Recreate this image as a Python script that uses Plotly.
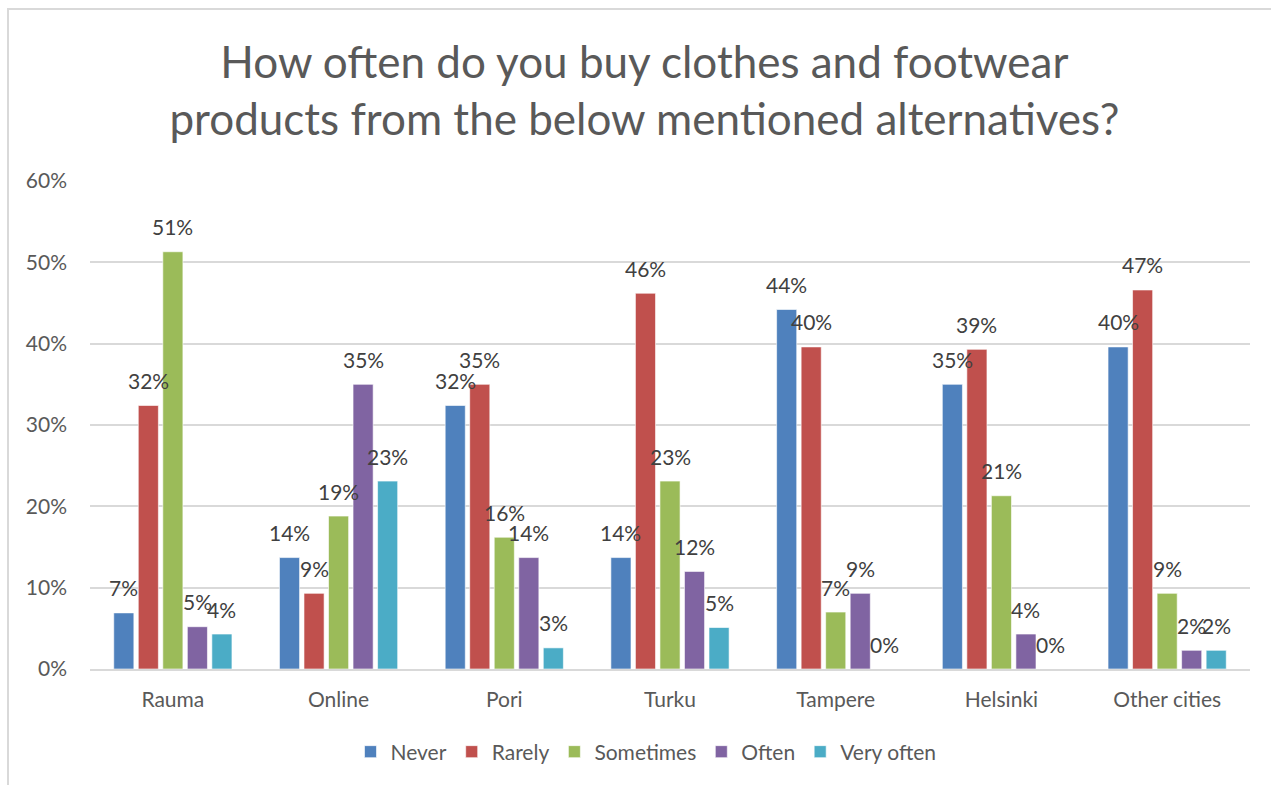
import plotly.graph_objects as go

# Survey answers: share of respondents (%) per place of purchase
places = ["Rauma", "Online", "Pori", "Turku", "Tampere", "Helsinki", "Other cities"]

never = [6.9, 13.7, 32.4, 13.7, 44.2, 35.0, 39.6]
rarely = [32.4, 9.3, 35.0, 46.2, 39.6, 39.3, 46.6]
sometimes = [51.3, 18.8, 16.2, 23.1, 7.0, 21.3, 9.3]
often = [5.2, 35.0, 13.7, 12.0, 9.3, 4.3, 2.3]
very_often = [4.3, 23.1, 2.6, 5.1, 0.0, 0.0, 2.3]

series = [
    ("Never", never, "#4F81BD"),
    ("Rarely", rarely, "#C0504D"),
    ("Sometimes", sometimes, "#9BBB59"),
    ("Often", often, "#8064A2"),
    ("Very often", very_often, "#4BACC6"),
]

FONT = "Lato, 'Open Sans', sans-serif"
GREY = "#595959"
LABEL = "#404040"

W, H = 1271, 785
L, R, T, B = 90, 21, 181, 116
pw, ph = W - L - R, H - T - B
BARGAP, GROUPGAP = 0.26, 0.18


def px_x(v):
    return (v - L) / pw


def px_y(v):
    return (H - B - v) / ph


fig = go.Figure()
for name, vals, color in series:
    fig.add_trace(go.Bar(
        name=name,
        x=places,
        y=vals,
        marker=dict(color=color, line=dict(color="rgba(255,255,255,0.6)", width=1)),
    ))

# Value labels centred over each bar of a group
slot = pw / len(places) * (1 - BARGAP) / len(series)
annotations = []
for i, (name, vals, color) in enumerate(series):
    offset = (i - (len(series) - 1) / 2) * slot
    for place, v in zip(places, vals):
        annotations.append(dict(
            x=place, y=v, xref="x", yref="y",
            text=f"{v:.0f}%",
            showarrow=False,
            xanchor="center", yanchor="middle",
            xshift=offset, yshift=25,
            font=dict(family=FONT, size=21, color=LABEL),
        ))

fig.update_layout(
    width=W,
    height=H,
    margin=dict(l=L, r=R, t=T, b=B),
    paper_bgcolor="white",
    plot_bgcolor="white",
    barmode="group",
    bargap=BARGAP,
    bargroupgap=GROUPGAP,
    title=dict(
        text="How often do you buy clothes and footwear<br>products from the below mentioned alternatives?",
        x=0.507,
        xanchor="center",
        y=1 - 78 / H,
        yanchor="middle",
        font=dict(family=FONT, size=44, color=GREY),
    ),
    font=dict(family=FONT, color=GREY),
    legend=dict(
        orientation="h",
        x=px_x(646),
        xanchor="center",
        y=px_y(752),
        yanchor="middle",
        font=dict(family=FONT, size=21, color=GREY),
        itemwidth=30,
        traceorder="normal",
    ),
    xaxis=dict(
        showgrid=False,
        showline=True,
        linecolor="#D9D9D9",
        linewidth=2,
        ticks="",
        ticklabelstandoff=11,
        tickfont=dict(family=FONT, size=21, color=GREY),
    ),
    yaxis=dict(
        range=[0, 60],
        dtick=10,
        ticksuffix="%",
        showgrid=True,
        gridcolor="#D9D9D9",
        gridwidth=2,
        zeroline=False,
        showline=False,
        ticks="",
        ticklabelstandoff=22,
        tickfont=dict(family=FONT, size=21, color=GREY),
    ),
    annotations=annotations,
    shapes=[
        dict(
            type="rect",
            xref="paper",
            yref="paper",
            x0=px_x(8),
            x1=px_x(W + 10),
            y0=px_y(9),
            y1=px_y(H + 10),
            line=dict(color="#D9D9D9", width=2),
            fillcolor="rgba(0,0,0,0)",
            layer="below",
        )
    ],
)

fig.write_html("out.html")
